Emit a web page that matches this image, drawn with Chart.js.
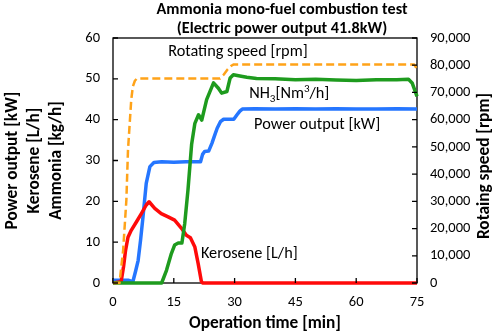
<!DOCTYPE html>
<html>
<head>
<meta charset="utf-8">
<script src="https://cdn.jsdelivr.net/npm/chart.js@4.4.1/dist/chart.umd.min.js"></script>
<style>
  html, body { margin: 0; padding: 0; background: #fff; }
  canvas { display: block; }
</style>
</head>
<body>
<canvas id="chart" width="500" height="334"></canvas>
<script>
// ---- text ----
const titleLines = ['Ammonia mono-fuel combustion test', '(Electric power output 41.8kW)'];
const xAxisTitle = 'Operation time [min]';
const leftAxisTitle = ['Power output [kW]', 'Kerosene [L/h]', 'Ammonia [kg/h]'];
const rightAxisTitle = 'Rotaing speed [rpm]';

// ---- axis ranges / ticks ----
const timeTicks = [0, 15, 30, 45, 60, 75];
const leftTicks = [0, 10, 20, 30, 40, 50, 60];
const rightTicks = [0, 10000, 20000, 30000, 40000, 50000, 60000, 70000, 80000, 90000];

// ---- series: power output [kW] ----
const powerTime = [0, 3.7, 4.9, 5.6, 6.2, 6.8, 7.4, 8.2, 9.1, 10.1, 12, 15, 18, 21.6, 22.1, 22.6, 23.6, 24.4, 25.1, 25.7, 26.5, 27.3, 28.5, 29.8, 30.6, 31.3, 31.9, 35, 40, 45, 50, 55, 60, 65, 70, 75];
const powerKW   = [0.7, 0.7, 0.3, 3, 5.5, 10.5, 16.2, 24.4, 28.5, 29.5, 29.7, 29.6, 29.7, 29.7, 31.5, 32.2, 32.3, 34.2, 36.2, 37.9, 39.5, 40.1, 40.1, 40.1, 41.2, 42.1, 42.6, 42.7, 42.6, 42.7, 42.6, 42.7, 42.6, 42.6, 42.7, 42.6];

// ---- series: kerosene [L/h] ----
const keroseneTime = [0, 2.0, 2.6, 3.1, 3.7, 4.5, 5.8, 7.0, 8.2, 8.9, 10.3, 11.9, 13.6, 15.2, 16.9, 18.1, 19.1, 20.2, 21.0, 21.8, 22.1, 75];
const keroseneLh   = [0, 0.3, 4, 8.0, 11.2, 12.9, 15.0, 17.0, 19.1, 19.9, 18.3, 17.0, 16.2, 15.4, 13.4, 11.7, 11.1, 8.8, 4.8, 0.4, 0, 0];

// ---- series: ammonia ----
const ammoniaTime = [0, 12.0, 13.2, 14.4, 15.2, 16.1, 17.0, 17.7, 18.5, 19.4, 20.2, 21.1, 21.9, 23.1, 24.8, 26.0, 26.8, 28.1, 28.9, 29.7, 31.3, 33.0, 35.4, 40, 45, 50, 55, 60, 65, 70, 72.9, 73.8, 75];
const ammoniaKgh  = [0, 0, 3.1, 7.2, 9.3, 9.8, 9.8, 14.6, 22.8, 34.0, 39.1, 41.2, 39.9, 44.9, 49.0, 47.7, 46.5, 46.9, 50.2, 51.0, 50.7, 50.4, 50.1, 50.0, 49.8, 49.9, 49.7, 49.6, 49.8, 49.8, 49.9, 49.0, 45.7];

// ---- series: rotating speed [rpm] (right axis) ----
const speedTime = [0, 1.6, 2.5, 3.3, 3.7, 4.5, 4.9, 5.4, 5.9, 10, 15, 20, 26.4, 27.3, 28.3, 29.2, 29.8, 35, 45, 55, 65, 74.3, 75];
const speedRpm  = [0, 0, 12000, 30500, 48900, 67300, 72200, 74300, 75100, 75100, 75100, 75100, 75100, 76500, 78500, 79800, 80300, 80300, 80300, 80300, 80300, 80300, 78600];

// ---- in-plot labels, placed in data coordinates (left axis units) ----
const seriesLabels = [
  { text: 'Rotating speed [rpm]', t: 13.6, v: 56.6 },
  { text: 'Power output [kW]',    t: 34.8, v: 38.7 },
  { text: 'Kerosene [L/h]',       t: 21.7, v: 7.05 }
];
const nh3Label = { t: 33.6, v: 46.3 };

const FONT = 'Carlito, Calibri, Lato, sans-serif';
const INK = '#000';
const TICK_SIZE = 14.5;
const LABEL_SIZE = 16.3;
const AXIS_TITLE_SIZE = 17.3;
const TITLE_SIZE = 16.2;

const toXY = (xs, ys) => xs.map((x, i) => ({ x, y: ys[i] }));

// inward tick marks, frame, titles and in-plot labels
const decorations = {
  id: 'decorations',
  beforeDatasetsDraw(chart) {
    const { ctx, chartArea: a } = chart;
    ctx.save();
    ctx.strokeStyle = INK;
    ctx.lineWidth = 1.3;
    ctx.strokeRect(a.left, a.top, a.right - a.left, a.bottom - a.top);
    ctx.restore();
  },
  afterDatasetsDraw(chart) {
    const { ctx, chartArea: a, scales } = chart;
    const len = 5;
    ctx.save();
    ctx.strokeStyle = INK;
    ctx.lineWidth = 1.3;
    ctx.beginPath();
    timeTicks.forEach(v => {
      const x = scales.x.getPixelForValue(v);
      ctx.moveTo(x, a.bottom); ctx.lineTo(x, a.bottom - len);
    });
    leftTicks.forEach(v => {
      const y = scales.y.getPixelForValue(v);
      ctx.moveTo(a.left, y); ctx.lineTo(a.left + len, y);
    });
    rightTicks.forEach(v => {
      const y = scales.y1.getPixelForValue(v);
      ctx.moveTo(a.right, y); ctx.lineTo(a.right - len, y);
    });
    ctx.stroke();

    // chart title
    ctx.fillStyle = INK;
    ctx.font = `bold ${TITLE_SIZE}px ${FONT}`;
    ctx.textAlign = 'center';
    ctx.textBaseline = 'middle';
    ctx.fillText(titleLines[0], 282, 10);
    ctx.fillText(titleLines[1], 282, 29);

    // right axis title, reading bottom to top
    ctx.save();
    ctx.font = `bold ${AXIS_TITLE_SIZE}px ${FONT}`;
    ctx.translate(485, 166);
    ctx.rotate(-Math.PI / 2);
    ctx.fillText(rightAxisTitle, 0, 0);
    ctx.restore();

    // series labels
    ctx.font = `${LABEL_SIZE}px ${FONT}`;
    ctx.textAlign = 'left';
    seriesLabels.forEach(l => {
      ctx.fillText(l.text, scales.x.getPixelForValue(l.t), scales.y.getPixelForValue(l.v));
    });

    // NH3[Nm3/h] with sub/superscript
    let x = scales.x.getPixelForValue(nh3Label.t);
    const y = scales.y.getPixelForValue(nh3Label.v);
    const big = `${LABEL_SIZE}px ${FONT}`, small = `11px ${FONT}`;
    const parts = [
      ['NH', big, 0], ['3', small, 5], ['[Nm', big, 0], ['3', small, -5], ['/h]', big, 0]
    ];
    parts.forEach(([s, f, dy]) => {
      ctx.font = f;
      ctx.fillText(s, x, y + dy);
      x += ctx.measureText(s).width;
    });
    ctx.restore();
  }
};

const lineStyle = { pointRadius: 0, pointHoverRadius: 0, tension: 0, clip: 4, borderCapStyle: 'butt', borderJoinStyle: 'round' };

new Chart(document.getElementById('chart'), {
  type: 'line',
  data: {
    datasets: [
      Object.assign({ label: 'Rotating speed [rpm]', data: toXY(speedTime, speedRpm), yAxisID: 'y1',
        borderColor: '#FFA319', borderWidth: 2.5, borderDash: [8, 4] }, lineStyle),
      Object.assign({ label: 'NH3', data: toXY(ammoniaTime, ammoniaKgh), yAxisID: 'y',
        borderColor: '#1E9B1E', borderWidth: 3.5 }, lineStyle),
      Object.assign({ label: 'Kerosene [L/h]', data: toXY(keroseneTime, keroseneLh), yAxisID: 'y',
        borderColor: '#FF0A0A', borderWidth: 3.5 }, lineStyle),
      Object.assign({ label: 'Power output [kW]', data: toXY(powerTime, powerKW), yAxisID: 'y',
        borderColor: '#2576FF', borderWidth: 3.5 }, lineStyle)
    ]
  },
  options: {
    responsive: false,
    animation: false,
    devicePixelRatio: 1,
    events: [],
    layout: { padding: { top: 38, left: 0, right: 0, bottom: 0 } },
    plugins: { legend: { display: false }, title: { display: false }, tooltip: { enabled: false } },
    scales: {
      x: {
        type: 'linear', min: 0, max: 75,
        afterBuildTicks: s => { s.ticks = timeTicks.map(value => ({ value })); },
        afterFit: s => { s.height = 51; },
        ticks: { color: INK, font: { family: FONT, size: TICK_SIZE }, padding: 11, maxRotation: 0 },
        grid: { drawOnChartArea: false, drawTicks: false },
        border: { display: false },
        title: { display: true, text: xAxisTitle, color: INK,
          font: { family: FONT, size: AXIS_TITLE_SIZE, weight: 'bold', lineHeight: 1.2 }, padding: { top: 0, bottom: 0 } }
      },
      y: {
        type: 'linear', position: 'left', min: 0, max: 60,
        afterBuildTicks: s => { s.ticks = leftTicks.map(value => ({ value })); },
        afterFit: s => { s.width = 113; },
        ticks: { color: INK, font: { family: FONT, size: TICK_SIZE }, padding: 13 },
        grid: { drawOnChartArea: false, drawTicks: false },
        border: { display: false },
        title: { display: true, text: leftAxisTitle, color: INK,
          font: { family: FONT, size: AXIS_TITLE_SIZE, weight: 'bold', lineHeight: 1.27 }, padding: { top: 2, bottom: 0 } }
      },
      y1: {
        type: 'linear', position: 'right', min: 0, max: 90000,
        afterBuildTicks: s => { s.ticks = rightTicks.map(value => ({ value })); },
        afterFit: s => { s.width = 83; },
        ticks: { color: INK, font: { family: FONT, size: TICK_SIZE }, padding: 13,
          callback: v => v.toLocaleString('en-US') },
        grid: { drawOnChartArea: false, drawTicks: false },
        border: { display: false }
      }
    }
  },
  plugins: [decorations]
});
</script>
</body>
</html>
